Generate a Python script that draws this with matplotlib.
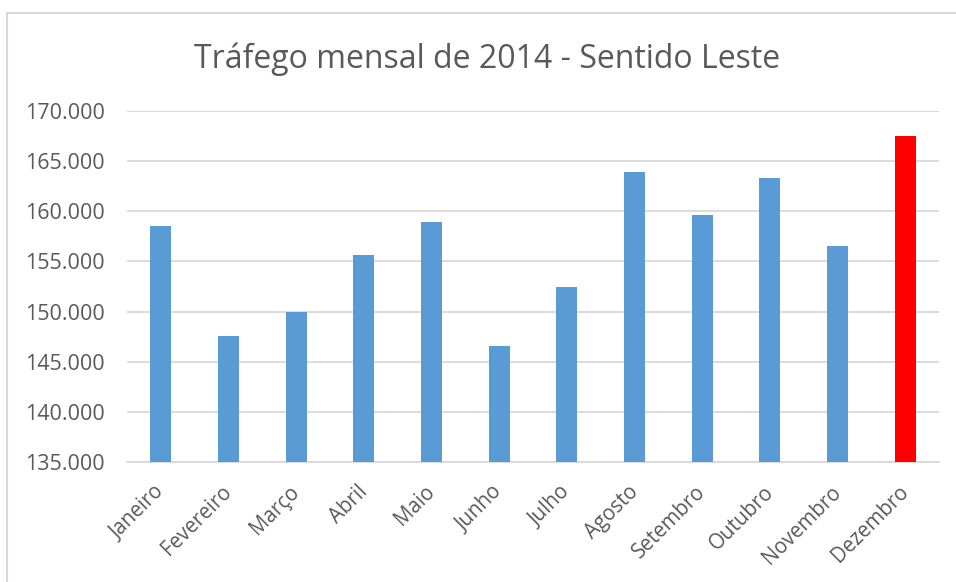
import matplotlib
matplotlib.use("Agg")
import matplotlib.pyplot as plt
from matplotlib.lines import Line2D
from matplotlib.ticker import FuncFormatter
from matplotlib.transforms import ScaledTranslation

plt.rcParams['font.family'] = ['Open Sans', 'DejaVu Sans']

# Monthly eastbound traffic, 2014
meses = ["Janeiro", "Fevereiro", "Março", "Abril", "Maio", "Junho",
         "Julho", "Agosto", "Setembro", "Outubro", "Novembro", "Dezembro"]
trafego = [158570, 147530, 150000, 155670, 158970, 146600,
           152430, 163870, 159670, 163300, 156570, 167470]
destaque = "Dezembro"

W, H = 956, 582
fig = plt.figure(figsize=(W / 100, H / 100), dpi=100)

# plot area in pixel coordinates
x0, x1 = 127, 939
y_top, y_bot = 111, 462
ax = fig.add_axes([x0 / W, 1 - y_bot / H, (x1 - x0) / W, (y_bot - y_top) / H])

cores = ["#FF0000" if m == destaque else "#5B9BD5" for m in meses]
pos = list(range(len(meses)))
ax.bar(pos, trafego, width=0.31, color=cores, zorder=3)

ax.set_xlim(-0.5, len(meses) - 0.5)
ax.set_ylim(135000, 170000)
ax.set_yticks(range(135000, 170001, 5000))
ax.yaxis.set_major_formatter(FuncFormatter(lambda v, p: f"{int(v):,}".replace(",", ".")))
ax.grid(axis="y", color="#D9D9D9", linewidth=1.3, zorder=0)
for s in ["top", "right", "left"]:
    ax.spines[s].set_visible(False)
ax.spines["bottom"].set_color("#D9D9D9")
ax.spines["bottom"].set_linewidth(1.3)
ax.tick_params(axis="both", length=0, colors="#595959")
ax.tick_params(axis="y", pad=16, labelsize=15.5)
ax.tick_params(axis="x", pad=14, labelsize=14.8)
ax.set_xticks(pos)
ax.set_xticklabels(meses, rotation=45, ha="right", rotation_mode="anchor")
desloc = ScaledTranslation(-7 / 100, 0, fig.dpi_scale_trans)
for lbl in ax.get_xticklabels():
    lbl.set_transform(lbl.get_transform() + desloc)

fig.text(487 / W, 1 - 59 / H, "Tráfego mensal de 2014 - Sentido Leste",
         ha="center", va="center", fontsize=23, color="#595959")

# chart frame (top and left edges)
fig.add_artist(Line2D([7 / W, 1], [1 - 13 / H, 1 - 13 / H], color="#D9D9D9", linewidth=1.5))
fig.add_artist(Line2D([7 / W, 7 / W], [0, 1 - 13 / H], color="#D9D9D9", linewidth=1.5))

fig.savefig("out.png", dpi=100, facecolor="white")
